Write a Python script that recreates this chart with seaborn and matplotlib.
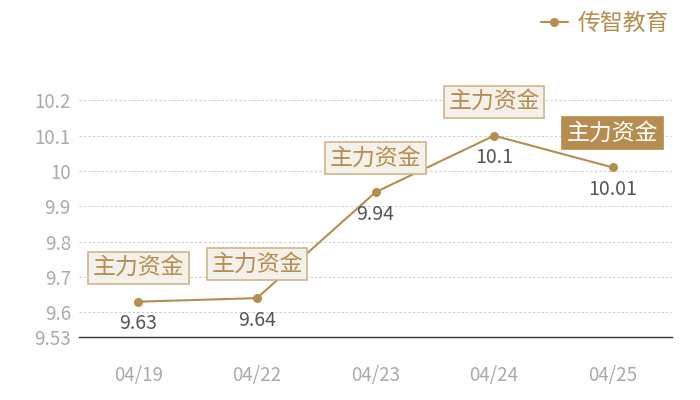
import matplotlib
matplotlib.use("Agg")
import matplotlib.pyplot as plt
import seaborn as sns
import pandas as pd

dates = ["04/19", "04/22", "04/23", "04/24", "04/25"]
values = [9.63, 9.64, 9.94, 10.1, 10.01]
value_labels = ["9.63", "9.64", "9.94", "10.1", "10.01"]
tag_text = "主力资金"
series_name = "传智教育"
y_ticks = [9.53, 9.6, 9.7, 9.8, 9.9, 10.0, 10.1, 10.2]
y_tick_labels = ["9.53", "9.6", "9.7", "9.8", "9.9", "10", "10.1", "10.2"]

sns.set_theme(style="white")
plt.rcParams['font.family'] = ['Noto Sans CJK SC', 'DejaVu Sans']

gold = "#b68d4f"
df = pd.DataFrame({"date": dates, "value": values, "series": series_name})

fig = plt.figure(figsize=(7, 4), dpi=100)
ax = fig.add_axes([0.113, 0.1575, 0.847, 0.68])

sns.lineplot(data=df, x="date", y="value", hue="series", palette=[gold],
             marker="o", markersize=6.5, markeredgewidth=0, linewidth=1.5,
             sort=False, ax=ax, legend=False)

ax.set_xlim(-0.5, len(dates) - 0.5)
ax.set_ylim(9.53, 10.3)
ax.set_yticks(y_ticks)
ax.set_yticklabels(y_tick_labels)
ax.set_xlabel("")
ax.set_ylabel("")
for t in y_ticks[1:]:
    ax.axhline(t, color="#cccccc", linestyle=(0, (2, 2)), linewidth=0.8, zorder=0)

for s in ["top", "right", "left"]:
    ax.spines[s].set_visible(False)
ax.spines["bottom"].set_color("#333333")
ax.spines["bottom"].set_linewidth(1.0)
ax.tick_params(axis="both", length=0, colors="#aaaaaa", labelsize=13.5)
ax.tick_params(axis="x", labelsize=13.5, pad=20)
ax.tick_params(axis="y", pad=6)

for i, (v, lab) in enumerate(zip(values, value_labels)):
    ax.annotate(lab, (i, v), xytext=(0, -16), textcoords="offset points",
                ha="center", va="center", fontsize=14, color="#555555")
    last = (i == len(values) - 1)
    ax.annotate(tag_text, (i, v), xytext=(0, 24.5), textcoords="offset points",
                ha="center", va="center", fontsize=16.5,
                color="white" if last else gold,
                bbox=dict(boxstyle="square,pad=0.2",
                          fc=gold if last else "#f4f0ea",
                          ec=gold if last else "#cfb48a", lw=1.2))

handle = plt.Line2D([], [], color=gold, marker="o", markersize=6.5,
                    markeredgewidth=0, linewidth=1.5)
leg = fig.legend([handle], [series_name], loc="upper right",
                 bbox_to_anchor=(0.975, 1.005), frameon=False,
                 fontsize=16.5, handlelength=1.2, handletextpad=0.4,
                 borderaxespad=0.2)
for txt in leg.get_texts():
    txt.set_color(gold)

fig.savefig("out.png", dpi=100)
